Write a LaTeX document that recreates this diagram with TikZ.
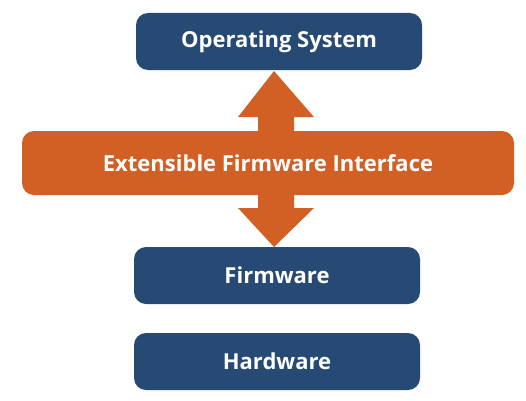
\documentclass[tikz,border=0pt]{standalone}
\usepackage{fontspec}
\setmainfont{Open Sans}
\usetikzlibrary{calc}
\definecolor{navy}{HTML}{264A74}
\definecolor{rust}{HTML}{D26025}
\begin{document}
\begin{tikzpicture}[x=1pt,y=1pt,
  box/.style={rectangle, rounded corners=12pt, fill=navy, text=white, minimum width=286pt, minimum height=57pt, font=\fontsize{22}{26}\selectfont\bfseries, inner sep=0pt},
  efibox/.style={rectangle, rounded corners=12pt, fill=rust, text=white, minimum width=492pt, minimum height=64pt, font=\fontsize{22}{26}\selectfont\bfseries, inner sep=0pt},
  arrowfill/.style={fill=rust}]
\useasboundingbox (0,0) rectangle (526,400);
\node[box] (os) at (279,358.5) {Operating System};
\node[efibox] (efi) at (268,237) {Extensible Firmware Interface};
\node[box] (fw) at (277,124.5) {Firmware};
\node[box] (hw) at (277,38.5) {Hardware};
% up arrow
\coordinate (uptip) at (274,329);
\coordinate (upbase) at (274,269);
\fill[arrowfill] (uptip) -- ++(40,-46) -- ++(-20,0) -- ($(upbase)+(20,0)$) -- ($(upbase)+(-16,0)$) -- ++(0,14) -- ++(-20,0) -- cycle;
% down arrow
\coordinate (dntip) at (274,153);
\coordinate (dnbase) at (274,205);
\fill[arrowfill] (dntip) -- ++(40,39) -- ++(-20,0) -- ($(dnbase)+(20,0)$) -- ($(dnbase)+(-16,0)$) -- ++(0,-13) -- ++(-20,0) -- cycle;
\end{tikzpicture}
\end{document}
